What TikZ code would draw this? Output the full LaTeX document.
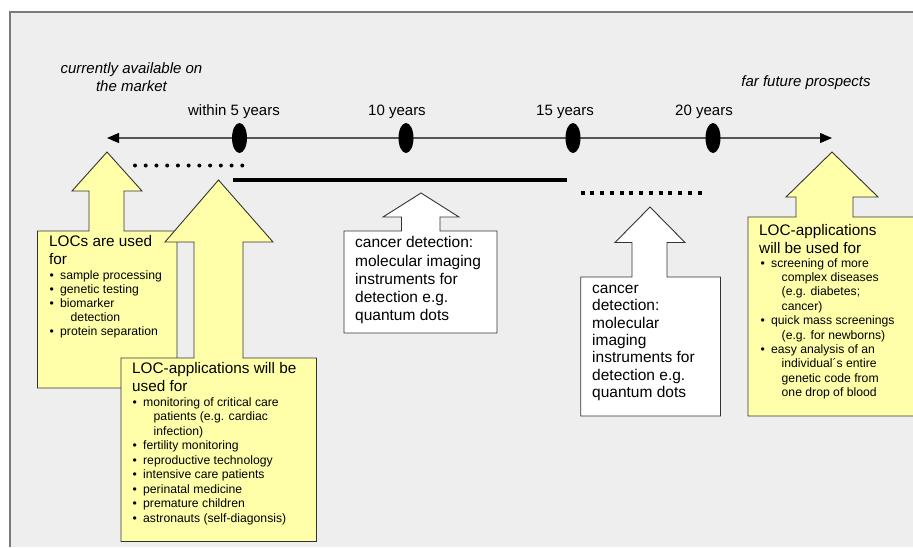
\documentclass[tikz,border=0pt]{standalone}
\usepackage{fontspec}
\setmainfont{Liberation Sans}
\usetikzlibrary{arrows.meta,shapes.geometric}
\definecolor{panelgray}{HTML}{EEEEEE}
\definecolor{locyellow}{HTML}{FFFFAA}
\definecolor{framegray}{HTML}{7A7A7A}
\definecolor{axisgray}{HTML}{555555}
\newcommand{\itm}{\textbullet\hspace{6.2pt}}
\newcommand{\cnt}{\hspace*{21pt}}

\begin{document}
\begin{tikzpicture}[x=1pt,y=-1pt,
    yearmark/.style={ellipse,fill=black,minimum width=15pt,minimum height=30pt,inner sep=0pt},
    yearlabel/.style={anchor=base,inner sep=0pt,font=\fontsize{15}{18}\selectfont},
    farlabel/.style={anchor=base,inner sep=0pt,align=center,font=\fontsize{15}{17.5}\selectfont\itshape},
    blockarrow/.style={draw=black!80,line width=0.9pt,line join=miter},
    headtext/.style={anchor=north west,inner sep=0pt,align=left,font=\fontsize{15.3}{17.8}\selectfont},
    listtext/.style={anchor=north west,inner sep=0pt,align=left,font=\fontsize{12.2}{14}\selectfont},
    boxtext/.style={anchor=north west,inner sep=0pt,align=left,font=\fontsize{15.5}{18.2}\selectfont}]
        \useasboundingbox (0,0) rectangle (913,547);
        % panel
        \fill [panelgray] (10,12) rectangle (913,547);
        \draw [framegray, line width=1.3pt] (10,547) -- (10,12) -- (913,12);

        % time axis
        \coordinate (past) at (107,138);
        \coordinate (future) at (832,138);
        \draw [axisgray, line width=1.2pt, {Triangle[length=12pt,width=10pt,color=black]}-{Triangle[length=12pt,width=10pt,color=black]}] (past) -- (future);
        \node [yearmark] (y5) at (239.5,138) {};
        \node [yearmark] (y10) at (406,138) {};
        \node [yearmark] (y15) at (573,138) {};
        \node [yearmark] (y20) at (713,138) {};
        \node [yearlabel] (l5) at (234,115) {within 5 years};
        \node [yearlabel] (l10) at (397,115) {10 years};
        \node [yearlabel] (l15) at (565,115) {15 years};
        \node [yearlabel] (l20) at (704,115) {20 years};
        \node [farlabel] (now) at (131.5,91) {currently available on\\the market};
        \node [farlabel] (far) at (806,86) {far future prospects};

        % periods
        \coordinate (dots1a) at (135,165.5);
        \coordinate (dots1b) at (242.3,165.5);
        \draw [line width=4pt, line cap=round, dash pattern=on 0pt off 10.73pt] (dots1a) -- (dots1b);
        \coordinate (bar1a) at (232.7,180);
        \coordinate (bar1b) at (566.7,180);
        \draw [line width=4.3pt] (bar1a) -- (bar1b);
        \coordinate (dots2a) at (580.7,192.7);
        \coordinate (dots2b) at (701.7,192.7);
        \draw [line width=4pt, dash pattern=on 4pt off 5.75pt] (dots2a) -- (dots2b);

        % today
        \draw [blockarrow, fill=locyellow] (37.5,388) -- (37.5,231) -- (89,231) -- (89,191) -- (72,191) -- (107,152) -- (142,191) -- (124,191) -- (124,231) -- (177,231) -- (177,388) -- cycle;
        \node [headtext] (locnow) at (49,235) {LOCs are used\\for};
        \node [listtext] (locnowlist) at (49.5,270) {\itm sample processing\\
            \itm genetic testing\\
            \itm biomarker\\
            \cnt detection\\
            \itm protein separation};

        % within 5 years
        \draw [blockarrow, fill=locyellow] (121,541.5) -- (121,358) -- (194,358) -- (194,242) -- (165,242) -- (218.5,180) -- (273,242) -- (243,242) -- (243,358) -- (316.5,358) -- (316.5,541.5) -- cycle;
        \node [headtext] (loc5) at (132,362.5) {LOC-applications will be\\used for};
        \node [listtext, font=\fontsize{12.2}{14.5}\selectfont] (loc5list) at (132.5,397) {\itm monitoring of critical care\\
            \cnt patients (e.g. cardiac\\
            \cnt infection)\\
            \itm fertility monitoring\\
            \itm reproductive technology\\
            \itm intensive care patients\\
            \itm perinatal medicine\\
            \itm premature children\\
            \itm astronauts (self-diagonsis)};

        % 10 and 15 years
        \draw [blockarrow, fill=white] (344,333) -- (344,231) -- (401.5,231) -- (401.5,217) -- (383,217) -- (421,193) -- (459,217) -- (440,217) -- (440,231) -- (497,231) -- (497,333) -- cycle;
        \node [boxtext] (cancer10) at (355,236.5) {cancer detection:\\molecular imaging\\instruments for\\detection e.g.\\quantum dots};
        \draw [blockarrow, fill=white] (580.7,416) -- (580.7,277) -- (632,277) -- (632,242.5) -- (615,242.5) -- (650,207) -- (685,242.5) -- (667,242.5) -- (667,277) -- (720.5,277) -- (720.5,416) -- cycle;
        \node [boxtext, font=\fontsize{15.5}{17.3}\selectfont] (cancer15) at (592,285) {cancer\\detection:\\molecular\\imaging\\instruments for\\detection e.g.\\quantum dots};

        % far future
        \draw [blockarrow, fill=locyellow] (748,416) -- (748,217) -- (796,217) -- (796,197) -- (786,197) -- (832,152) -- (878,197) -- (853,197) -- (853,217) -- (925,217) -- (925,416) -- cycle;
        \node [headtext] (locfar) at (759,224) {LOC-applications\\will be used for};
        \node [listtext, font=\fontsize{12.2}{14.4}\selectfont] (locfarlist) at (760.5,258) {\itm screening of more\\
            \cnt complex diseases\\
            \cnt (e.g. diabetes;\\
            \cnt cancer)\\
            \itm quick mass screenings\\
            \cnt (e.g. for newborns)\\
            \itm easy analysis of an\\
            \cnt individual´s entire\\
            \cnt genetic code from\\
            \cnt one drop of blood};
\end{tikzpicture}
\end{document}
